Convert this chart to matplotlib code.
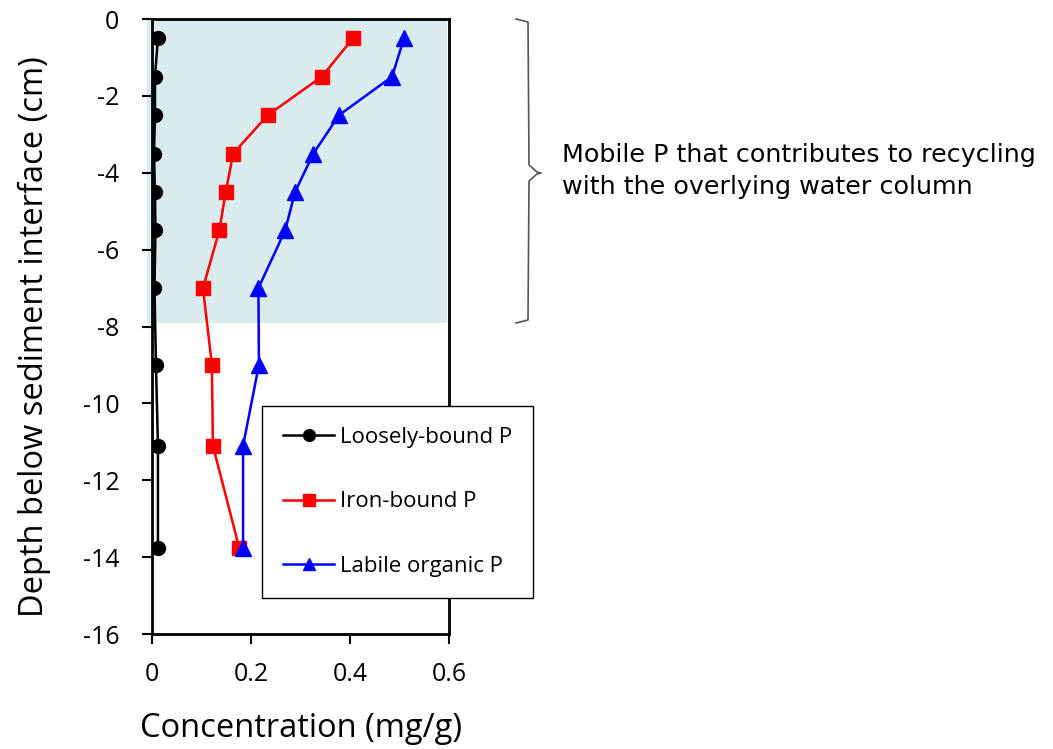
import matplotlib.pyplot as plt
from matplotlib.patches import Rectangle

# depth of each sediment slice (cm, negative = below the interface)
depth = [-0.5, -1.5, -2.5, -3.5, -4.5, -5.5, -7.0, -9.0, -11.1, -13.75]

# phosphorus fractions (mg/g)
loosely_bound = [0.012, 0.006, 0.006, 0.004, 0.006, 0.007, 0.005, 0.008, 0.012, 0.012]
iron_bound = [0.406, 0.343, 0.234, 0.164, 0.149, 0.136, 0.103, 0.121, 0.123, 0.176]
labile_organic = [0.509, 0.485, 0.378, 0.326, 0.289, 0.269, 0.215, 0.216, 0.184, 0.184]

mobile_zone = (0, -7.9)  # top and bottom of the shaded mobile layer

plt.rcParams['font.family'] = ['Open Sans', 'DejaVu Sans']
plt.rcParams['axes.unicode_minus'] = False

fig = plt.figure(figsize=(10.53, 7.49), dpi=100)
ax = fig.add_axes([152 / 1053, 115 / 749, 297 / 1053, 615 / 749])

# shaded band for the mobile layer
ax.add_patch(Rectangle((-0.01, mobile_zone[1]), 0.606, mobile_zone[0] - mobile_zone[1],
                       facecolor='#daebed', edgecolor='none', zorder=0, clip_on=False))

ax.plot(loosely_bound, depth, color='black', marker='o', markersize=10, lw=1.8,
        label='Loosely-bound P', zorder=3)
ax.plot(iron_bound, depth, color='red', marker='s', markersize=10, lw=1.8,
        label='Iron-bound P', zorder=3)
ax.plot(labile_organic, depth, color='blue', marker='^', markersize=11, lw=1.8,
        label='Labile organic P', zorder=3)

ax.set_xlim(0, 0.6)
ax.set_ylim(-16, 0)
ax.set_xticks([0, 0.2, 0.4, 0.6])
ax.set_xticklabels(['0', '0.2', '0.4', '0.6'])
ax.set_yticks(range(-16, 1, 2))
ax.tick_params(direction='out', length=7.5, width=1.5, labelsize=18)
ax.tick_params(axis='x', pad=13)
ax.tick_params(axis='y', pad=16)
for s in ax.spines.values():
    s.set_linewidth(2)

ax.set_xlabel('Concentration (mg/g)', fontsize=23.5, labelpad=18)
ax.set_ylabel('Depth below sediment interface (cm)', fontsize=23.5)
ax.yaxis.set_label_coords(-0.34, 0.483)

leg = fig.legend(handles=ax.get_lines(), loc='upper left',
                 bbox_to_anchor=(262 / 1053, 1 - 406 / 749), fontsize=16,
                 frameon=True, fancybox=False, edgecolor='black', borderpad=0.95,
                 labelspacing=1.95, handlelength=2.3, handletextpad=0.25,
                 borderaxespad=0, markerscale=0.85, framealpha=1)
leg.get_frame().set_linewidth(1.0)

# curly bracket beside the mobile layer, drawn in figure pixels
bx, top, bot, mid, tip = 516, 749 - 19, 749 - 323, 749 - 173, 541
bracket_x = [bx, bx + 12, bx + 13, tip - 4, tip, tip - 4, bx + 13, bx + 12, bx]
bracket_y = [top, top - 3, mid + 8, mid + 1, mid, mid - 1, mid - 8, bot + 3, bot]
bracket_x = [v / 1053 for v in bracket_x]
bracket_y = [v / 749 for v in bracket_y]
fig.add_artist(plt.Line2D(bracket_x, bracket_y, color='#555555', lw=1.2))

fig.text(562 / 1053, 1 - 171 / 749,
         'Mobile P that contributes to recycling\nwith the overlying water column',
         fontsize=18.3, va='center', ha='left', linespacing=1.45,
         family=['DejaVu Sans'])

fig.savefig('out.png', dpi=100)
